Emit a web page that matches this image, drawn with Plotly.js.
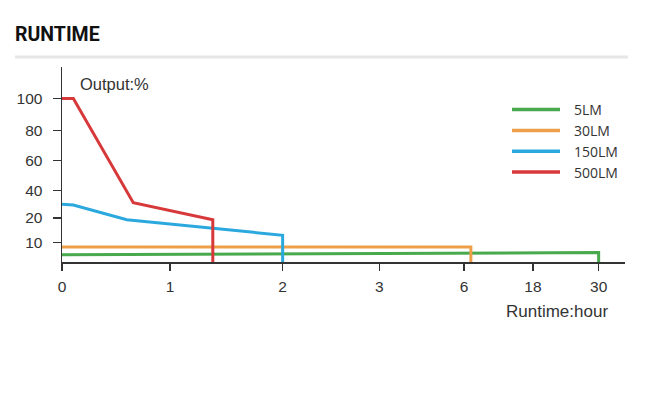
<!DOCTYPE html>
<html>
<head>
<meta charset="utf-8">
<script src="https://cdn.plot.ly/plotly-3.0.1.min.js"></script>
<style>
  html, body { margin: 0; padding: 0; background: #ffffff; }
  #chart { width: 651px; height: 397px; }
</style>
</head>
<body>
<div id="chart"></div>
<script>
// ---- Data (hours / output %) ----
const seriesNames = ['5LM', '30LM', '150LM', '500LM'];
const seriesColors = ['#48a94d', '#eda049', '#2ba9de', '#d7393b'];

const hours5LM   = [0, 30, 30];
const output5LM  = [3.7, 4.8, 0];

const hours30LM  = [0, 7.2, 7.2];
const output30LM = [7.6, 7.6, 0];

const hours150LM  = [0, 0.105, 0.6, 1.38, 2.0, 2.0];
const output150LM = [30, 29.4, 19.3, 15.6, 12.9, 0];

const hours500LM  = [0, 0.105, 0.66, 1.38, 1.38];
const output500LM = [100, 100, 31, 19.3, 0];

// ---- Axis ticks (non-uniform scales of the original figure) ----
const xTickHours  = [0, 1, 2, 3, 6, 18, 30];
const xTickLabels = ['0', '1', '2', '3', '6', '18', '30'];
const xTickUnits  = [0, 1, 2.043, 2.938, 3.722, 4.361, 4.969];

const yScaleValues = [0, 10, 20, 40, 60, 80, 100];
const yScaleUnits  = [0, 19.7, 44, 71.7, 101.7, 131.7, 163.4];
const yTickValues  = [10, 20, 40, 60, 80, 100];
const yTickLabels  = ['10', '20', '40', '60', '80', '100'];

function interp(v, from, to) {
  for (let i = 0; i < from.length - 1; i++) {
    if (v <= from[i + 1] || i === from.length - 2) {
      const t = (v - from[i]) / (from[i + 1] - from[i]);
      return to[i] + t * (to[i + 1] - to[i]);
    }
  }
  return to[to.length - 1];
}
const xMap = v => interp(v, xTickHours, xTickUnits);
const yMap = v => interp(v, yScaleValues, yScaleUnits);

const allHours = [hours5LM, hours30LM, hours150LM, hours500LM];
const allOutput = [output5LM, output30LM, output150LM, output500LM];

const traces = seriesNames.map((name, i) => ({
  type: 'scatter',
  mode: 'lines',
  name: name,
  x: allHours[i].map(xMap),
  y: allOutput[i].map(yMap),
  line: { color: seriesColors[i], width: 3 },
  hoverinfo: 'skip',
  showlegend: false
}));

const axisFont = { family: 'Liberation Sans, Arial, sans-serif', size: 15.5, color: '#333333' };

// Custom legend (swatch + label), built from the series arrays
const legendShapes = [];
const legendAnnotations = [];
const legX0 = (512 - 62) / 563, legX1 = (560 - 62) / 563, legTextX = (572 - 62) / 563;
seriesNames.forEach((name, i) => {
  const yPaper = (261.7 - (109.3 + i * 20.8)) / 195;
  legendShapes.push({
    type: 'line', xref: 'paper', yref: 'paper',
    x0: legX0, x1: legX1, y0: yPaper, y1: yPaper,
    line: { color: seriesColors[i], width: 3.5 }
  });
  legendAnnotations.push({
    text: name, xref: 'paper', yref: 'paper',
    x: legTextX, y: yPaper, xanchor: 'left', yanchor: 'middle',
    showarrow: false,
    font: { family: 'Open Sans, sans-serif', size: 14, color: '#333333' }
  });
});

const layout = {
  width: 651,
  height: 397,
  paper_bgcolor: '#ffffff',
  plot_bgcolor: '#ffffff',
  margin: { l: 62, r: 26, t: 67, b: 135, pad: 0 },
  title: {
    text: '<b>RUNTIME</b>',
    font: { family: 'Roboto, sans-serif', size: 19.5, color: '#111111' },
    xref: 'container', yref: 'container',
    x: 15 / 651, xanchor: 'left',
    y: 1 - 34 / 397, yanchor: 'middle'
  },
  showlegend: false,
  xaxis: {
    range: [0, 5.213],
    tickmode: 'array',
    tickvals: xTickHours.map(xMap),
    ticktext: xTickLabels,
    ticks: 'outside',
    ticklen: 7,
    tickcolor: '#333333',
    tickwidth: 1.2,
    ticklabelstandoff: 3,
    showline: true,
    linecolor: '#333333',
    linewidth: 1.5,
    showgrid: false,
    zeroline: false,
    tickfont: axisFont,
    fixedrange: true
  },
  yaxis: {
    range: [0, 195],
    tickmode: 'array',
    tickvals: yTickValues.map(yMap),
    ticktext: yTickLabels,
    ticks: 'outside',
    ticklen: 8,
    tickcolor: '#333333',
    tickwidth: 1.2,
    ticklabelstandoff: 7,
    showline: true,
    linecolor: '#333333',
    linewidth: 1.5,
    showgrid: false,
    zeroline: false,
    tickfont: axisFont,
    fixedrange: true
  },
  shapes: [{
    type: 'line', xref: 'paper', yref: 'paper',
    x0: (15 - 62) / 563, x1: (628 - 62) / 563,
    y0: 205 / 195, y1: 205 / 195,
    line: { color: '#e6e6e6', width: 3 }
  }].concat(legendShapes),
  annotations: [
    {
      text: 'Output:%', xref: 'paper', yref: 'paper',
      x: 16 / 563, y: (261.7 - 83.5) / 195, xanchor: 'left', yanchor: 'middle',
      showarrow: false, font: { family: 'Liberation Sans, Arial, sans-serif', size: 16.5, color: '#333333' }
    },
    {
      text: 'Runtime:hour', xref: 'paper', yref: 'paper',
      x: (610 - 62) / 563, y: (261.7 - 311.5) / 195, xanchor: 'right', yanchor: 'middle',
      showarrow: false, font: { family: 'Liberation Sans, Arial, sans-serif', size: 17, color: '#333333' }
    }
  ].concat(legendAnnotations)
};

Plotly.newPlot('chart', traces, layout, { displayModeBar: false, staticPlot: true });
</script>
</body>
</html>
